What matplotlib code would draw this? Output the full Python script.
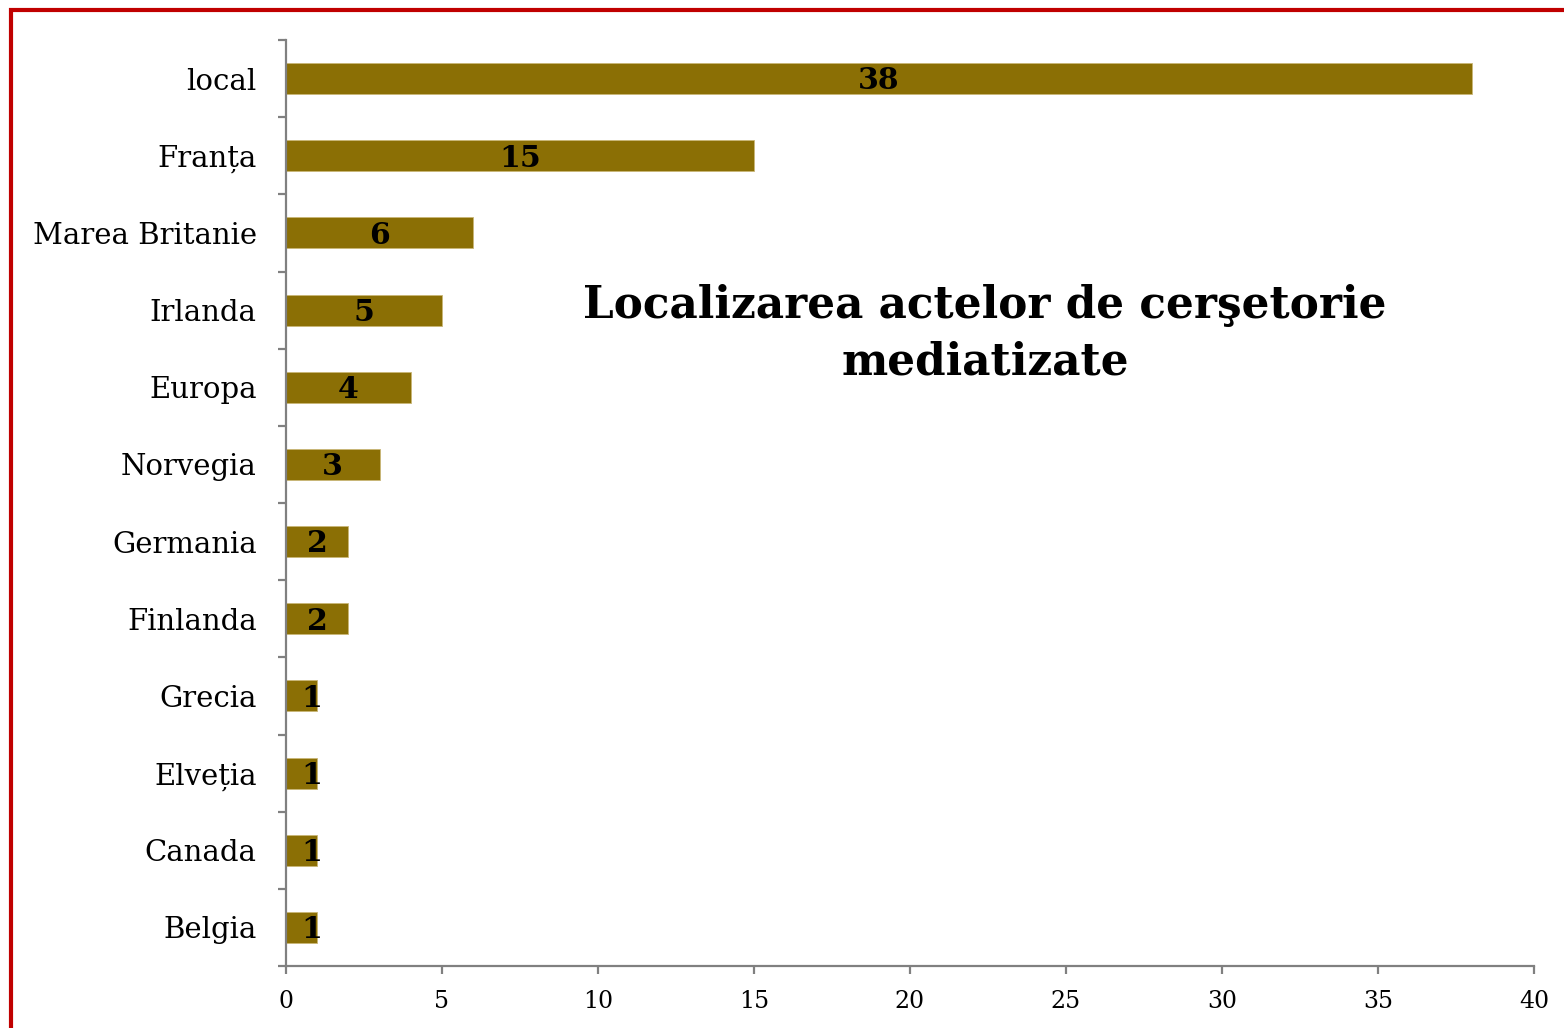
import numpy as np
import matplotlib.pyplot as plt
from matplotlib.patches import Rectangle

# date
tari = ["local", "Franța", "Marea Britanie", "Irlanda", "Europa", "Norvegia",
        "Germania", "Finlanda", "Grecia", "Elveția", "Canada", "Belgia"]
valori = [38, 15, 6, 5, 4, 3, 2, 2, 1, 1, 1, 1]
titlu = "Localizarea actelor de cerşetorie\nmediatizate"

plt.rcParams['font.family'] = ['DejaVu Serif']

fig = plt.figure(figsize=(15.64, 10.28), dpi=100)
ax = fig.add_axes([286 / 1564, 1 - 966 / 1028, 1248 / 1564, 926 / 1028])

y = np.arange(len(tari))[::-1]
ax.barh(y, valori, height=0.4, color='#8B6F05', edgecolor='#C9B677', linewidth=0.6)

# etichete valori (cele mici sunt impinse spre dreapta, ca in Excel)
for yi, v in zip(y, valori):
    ax.text(max(v / 2, 0.83), yi - 0.03, str(v), ha='center', va='center',
            fontsize=21.5, fontweight='bold', color='black')

ax.set_xlim(0, 40)
ax.set_ylim(-0.5, len(tari) - 0.5)
ax.set_xticks(range(0, 41, 5))
ax.set_yticks(y)
ax.set_yticklabels(tari)
ax.set_yticks(np.arange(-0.5, len(tari), 1), minor=True)

gri = '#808080'
for s in ['top', 'right']:
    ax.spines[s].set_visible(False)
for s in ['left', 'bottom']:
    ax.spines[s].set_color(gri)
    ax.spines[s].set_linewidth(1.6)

ax.tick_params(axis='y', which='major', length=0, pad=21, labelsize=21)
ax.tick_params(axis='y', which='minor', length=6, width=1.6, color=gri, direction='out')
ax.tick_params(axis='x', length=6, width=1.6, color=gri, direction='out', pad=11, labelsize=17)

ax.text(0.56, 0.683, titlu, transform=ax.transAxes, ha='center', va='center',
        fontsize=31.5, fontweight='bold', linespacing=1.38)

# chenar rosu
fig.patches.append(Rectangle((11 / 1564, -0.05), 1.1, 1.05 - 10 / 1028,
                             transform=fig.transFigure, fill=False,
                             edgecolor='#C00000', linewidth=3))

fig.savefig('out.png', dpi=100)
